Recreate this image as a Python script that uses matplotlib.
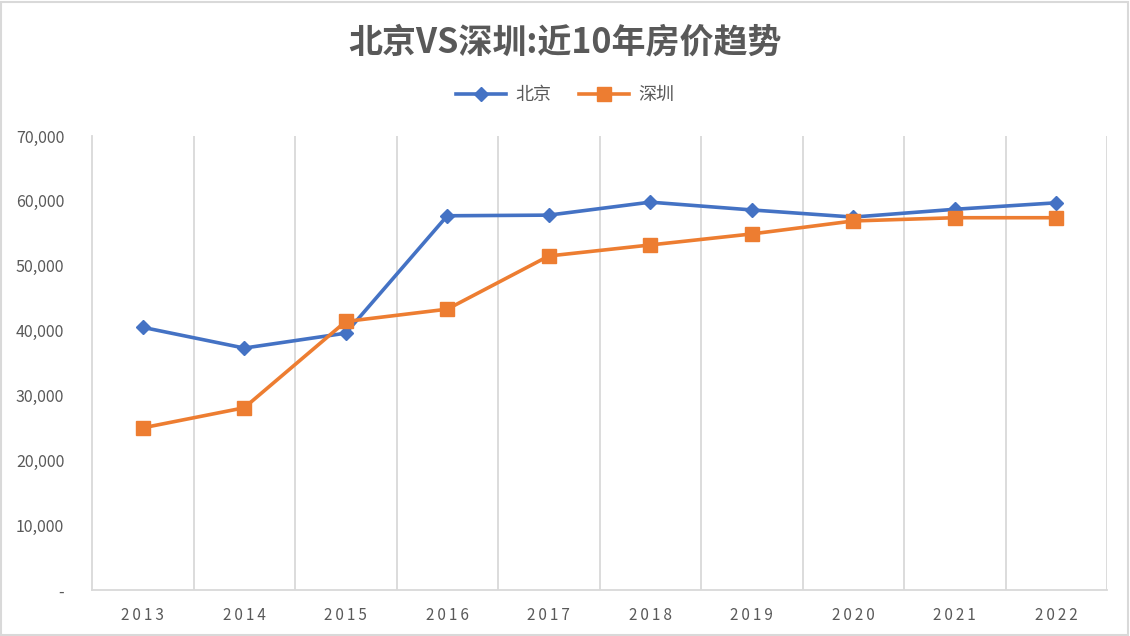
import matplotlib.pyplot as plt
from matplotlib.patches import Rectangle
from matplotlib.ticker import FuncFormatter, MultipleLocator

plt.rcParams['font.family'] = ['Noto Sans CJK SC', 'DejaVu Sans']

years = ['2013', '2014', '2015', '2016', '2017', '2018', '2019', '2020', '2021', '2022']
beijing = [40500, 37300, 39600, 57700, 57800, 59800, 58600, 57500, 58700, 59700]
shenzhen = [25000, 28100, 41400, 43300, 51500, 53200, 54900, 56900, 57400, 57400]

title = '北京VS深圳:近10年房价趋势'
text_color = '#595959'
grid_color = '#d9d9d9'
blue = '#4472c4'
orange = '#ed7d31'

fig = plt.figure(figsize=(11.3, 6.36), dpi=100)
ax = fig.add_axes([92 / 1130, 1 - 590 / 636, 1015 / 1130, 454 / 636])

x = list(range(len(years)))
ax.plot(x, beijing, color=blue, lw=2.6, marker='D', markersize=7, label='北京')
ax.plot(x, shenzhen, color=orange, lw=2.6, marker='s', markersize=9.5, label='深圳')

ax.set_xlim(-0.5, len(years) - 0.5)
ax.set_ylim(0, 70000)
ax.yaxis.set_major_locator(MultipleLocator(10000))
ax.yaxis.set_major_formatter(FuncFormatter(lambda v, p: '-' if v == 0 else f'{v:,.0f}'))

ax.set_xticks(x)
ax.set_xticklabels(['\u2009'.join(y) for y in years])
ax.tick_params(axis='x', length=0, pad=12, labelsize=11, labelcolor=text_color)
ax.tick_params(axis='y', length=0, pad=20, labelsize=11.5, labelcolor=text_color)

# vertical gridlines between categories (Excel-style)
for b in range(1, len(years) + 1):
    ax.axvline(b - 0.5, color=grid_color, lw=1.3, zorder=0)

for s in ['top', 'right']:
    ax.spines[s].set_visible(False)
for s in ['left', 'bottom']:
    ax.spines[s].set_color(grid_color)
    ax.spines[s].set_linewidth(1.3)

fig.text(0.5, 1 - 42 / 636, title, ha='center', va='center', fontsize=24.5,
         fontweight='bold', color=text_color)

leg = fig.legend(loc='center', bbox_to_anchor=(0.5, 1 - 95 / 636), ncol=2, frameon=False,
                 fontsize=13, handlelength=2.8, columnspacing=1.5, handletextpad=0.5)
for t in leg.get_texts():
    t.set_color(text_color)

fig.patches.append(Rectangle((0.001, 0.002), 0.997, 0.995, transform=fig.transFigure,
                             fill=False, edgecolor=grid_color, lw=1.5))

fig.savefig('out.png', dpi=100)
